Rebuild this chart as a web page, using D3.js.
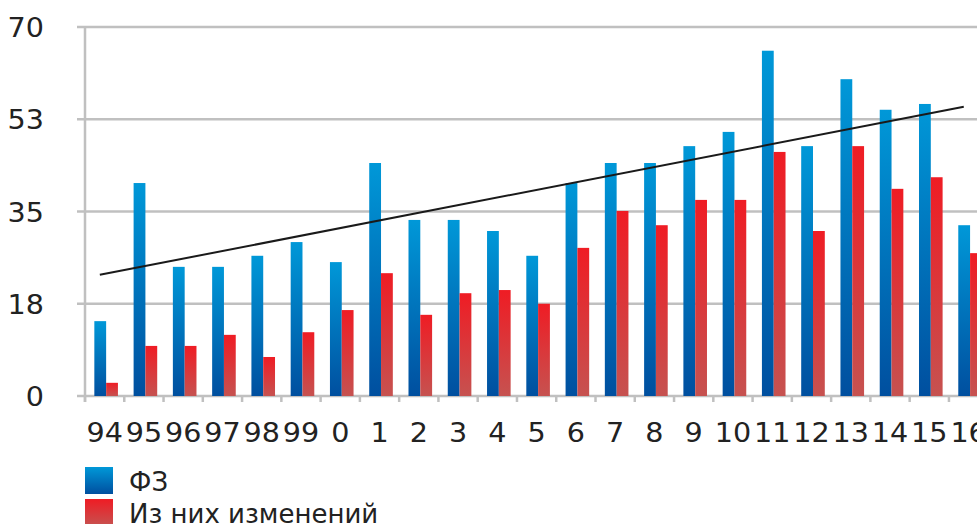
<!DOCTYPE html>
<html>
<head>
<meta charset="utf-8">
<script src="https://cdn.jsdelivr.net/npm/d3@7"></script>
<style>
  html, body { margin: 0; padding: 0; background: #fff; overflow: hidden; }
  svg { display: block; font-family: "DejaVu Sans", Verdana, sans-serif; }
</style>
</head>
<body>
<svg id="chart" width="977" height="524"></svg>
<script>
const categories = ["94","95","96","97","98","99","0","1","2","3","4","5","6","7","8","9","10","11","12","13","14","15","16"];
const seriesFZ = [14.2,40.4,24.5,24.5,26.6,29.2,25.4,44.2,33.4,33.4,31.3,26.6,40.4,44.2,44.2,47.4,50.1,65.5,47.4,60.1,54.3,55.4,32.4];
const seriesChanges = [2.5,9.5,9.5,11.6,7.4,12.1,16.3,23.3,15.4,19.5,20.1,17.5,28.1,35.1,32.4,37.2,37.2,46.3,31.3,47.4,39.3,41.5,27.1];
const yTickValues = [0, 17.5, 35, 52.5, 70];
const yTickLabels = ["0", "18", "35", "53", "70"];
const legendLabels = ["ФЗ", "Из них изменений"];

const svg = d3.select("#chart");
const plotLeft = 85, plotTop = 27, plotBottom = 396, band = 39.27;
const x = d3.scaleBand().domain(categories).range([plotLeft, plotLeft + band * categories.length]).padding(0);
const y = d3.scaleLinear().domain([0, 70]).range([plotBottom, plotTop]);

const defs = svg.append("defs");
function grad(id, c1, c2) {
  const g = defs.append("linearGradient").attr("id", id).attr("x1", 0).attr("y1", 0).attr("x2", 0).attr("y2", 1);
  g.append("stop").attr("offset", "0%").attr("stop-color", c1);
  g.append("stop").attr("offset", "100%").attr("stop-color", c2);
}
grad("gBlue", "#0098d8", "#004f9f");
grad("gRed", "#ef1c24", "#c65250");

const textColor = "#222";
const gridColor = "#c0c0c0";
const fontSize = 26;
const digitStretch = 1.1;

// gridlines
svg.append("g").selectAll("line").data(yTickValues).join("line")
  .attr("x1", plotLeft - 8).attr("x2", 977)
  .attr("y1", d => y(d)).attr("y2", d => y(d))
  .attr("stroke", gridColor).attr("stroke-width", 2.5);

// y tick labels
svg.append("g").selectAll("text").data(yTickValues).join("text")
  .attr("transform", d => `translate(44, ${y(d) + 1}) scale(${digitStretch}, 1)`)
  .attr("text-anchor", "end").attr("dominant-baseline", "central")
  .attr("font-size", fontSize).attr("fill", textColor)
  .text((d, i) => yTickLabels[i]);

// y axis line
svg.append("line").attr("x1", plotLeft).attr("x2", plotLeft).attr("y1", plotTop).attr("y2", plotBottom + 6)
  .attr("stroke", gridColor).attr("stroke-width", 2.5);

// x tick marks at band boundaries
const bounds = categories.map(c => x(c)).concat([x(categories[categories.length - 1]) + x.bandwidth()]);
svg.append("g").selectAll("line").data(bounds).join("line")
  .attr("x1", d => d).attr("x2", d => d).attr("y1", plotBottom).attr("y2", plotBottom + 6)
  .attr("stroke", gridColor).attr("stroke-width", 2.5);

// bars
const bw = 11.8, shift = 1.5;
const cx = c => x(c) + x.bandwidth() / 2;
svg.append("g").selectAll("rect").data(categories).join("rect")
  .attr("x", c => cx(c) - bw + shift).attr("width", bw)
  .attr("y", (c, i) => y(seriesFZ[i])).attr("height", (c, i) => y(0) - y(seriesFZ[i]))
  .attr("fill", "url(#gBlue)");
svg.append("g").selectAll("rect").data(categories).join("rect")
  .attr("x", c => cx(c) + shift).attr("width", bw)
  .attr("y", (c, i) => y(seriesChanges[i])).attr("height", (c, i) => y(0) - y(seriesChanges[i]))
  .attr("fill", "url(#gRed)");

// linear trend of FZ series
const n = seriesFZ.length;
const mx = d3.mean(d3.range(n)), my = d3.mean(seriesFZ);
let sxy = 0, sxx = 0;
seriesFZ.forEach((v, i) => { sxy += (i - mx) * (v - my); sxx += (i - mx) * (i - mx); });
const slope = sxy / sxx, icpt = my - slope * mx;
const trendOffset = -4.8;
svg.append("line")
  .attr("x1", cx(categories[0]) + trendOffset).attr("y1", y(icpt))
  .attr("x2", cx(categories[n - 1]) + trendOffset).attr("y2", y(icpt + slope * (n - 1)))
  .attr("stroke", "#1a1a1a").attr("stroke-width", 2);

// x labels
svg.append("g").selectAll("text").data(categories).join("text")
  .attr("transform", c => `translate(${cx(c)}, 442) scale(${digitStretch}, 1)`)
  .attr("text-anchor", "middle").attr("font-size", fontSize).attr("fill", textColor)
  .text(c => c);

// legend
const legend = svg.append("g");
const lg = legend.selectAll("g").data(legendLabels).join("g")
  .attr("transform", (d, i) => `translate(85, ${467 + i * 32})`);
lg.append("rect").attr("width", 28).attr("height", 27)
  .attr("fill", (d, i) => i === 0 ? "url(#gBlue)" : "url(#gRed)");
lg.append("text").attr("x", 44).attr("y", 24)
  .attr("font-size", fontSize).attr("fill", textColor).text(d => d);
</script>
</body>
</html>
